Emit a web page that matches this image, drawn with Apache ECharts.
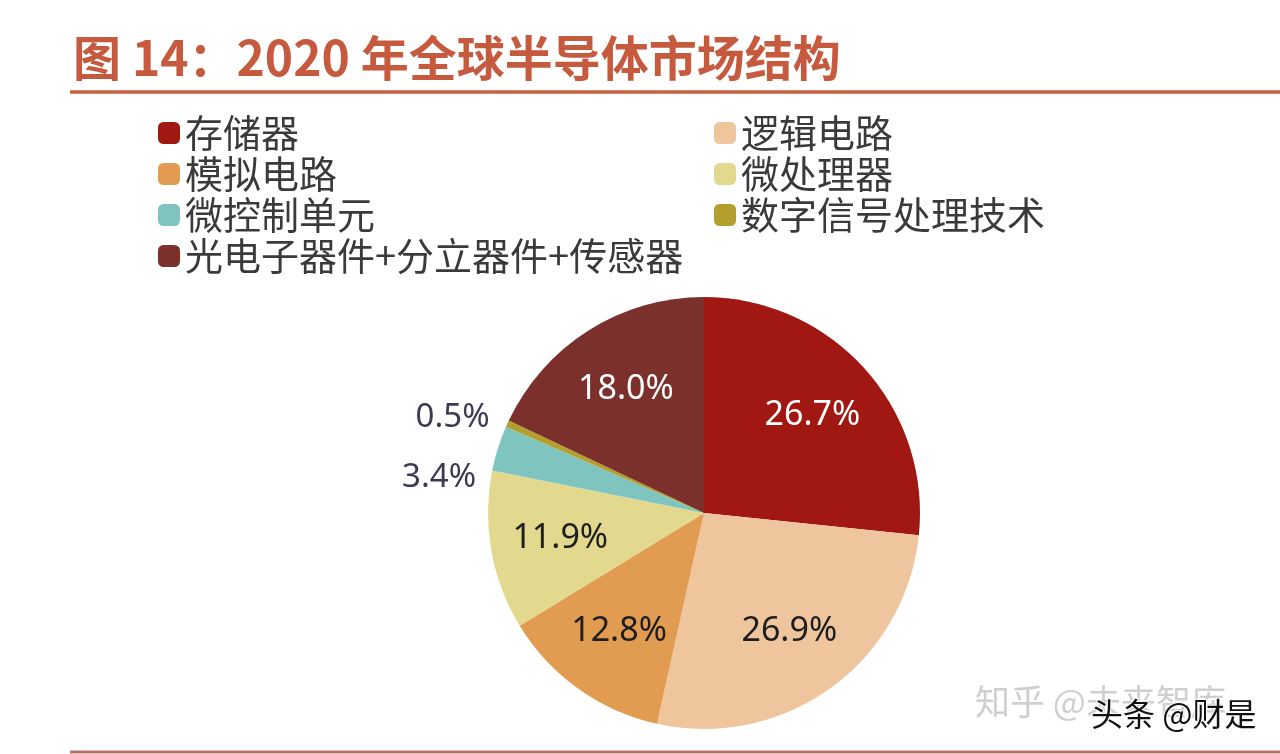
<!DOCTYPE html>
<html><head><meta charset="utf-8">
<script src="https://cdn.jsdelivr.net/npm/echarts@6/dist/echarts.min.js"></script>
<style>html,body{margin:0;padding:0;background:#fff}#c{width:1280px;height:754px}</style>
</head><body><div id="c"></div>
<script>
// ---- data ----
const categories = ['存储器','逻辑电路','模拟电路','微处理器','微控制单元','数字信号处理技术','光电子器件+分立器件+传感器'];
const shares = [26.7, 26.9, 12.8, 11.9, 3.4, 0.5, 18.0];
const legendLeft = ['存储器','模拟电路','微控制单元','光电子器件+分立器件+传感器'];
const legendRight = ['逻辑电路','微处理器','数字信号处理技术'];
const titleText = '图 14：2020 年全球半导体市场结构';

// ---- style ----
const palette = ['#A11812','#EEC59C','#E29C52','#E3D98E','#7FC4BE','#B49F2C','#7B302B'];
const lightLabel = new Set(['存储器','光电子器件+分立器件+传感器']);
const FONT = '"Noto Sans CJK SC","Noto Sans",sans-serif';
const NUMFONT = '"Noto Sans","DejaVu Sans",sans-serif';
const CX = 704, CY = 513, R = 216;

const chart = echarts.init(document.getElementById('c'), null, {renderer: 'canvas'});

const mainData = categories.map((n, i) => ({
  name: n, value: shares[i],
  label: {show: shares[i] < 5}
}));
const ringData = categories.map((n, i) => ({
  name: n, value: shares[i],
  label: {show: shares[i] >= 5, color: lightLabel.has(n) ? '#ffffff' : '#1e1e1e'}
}));

const legendCommon = {
  orient: 'vertical', icon: 'roundRect', itemWidth: 22, itemHeight: 22, itemGap: 3, padding: 0,
  textStyle: {fontFamily: FONT, fontSize: 38, lineHeight: 38, color: '#3a3a3a'},
  selectedMode: false
};

chart.setOption({
  animation: false,
  color: palette,
  title: {
    text: titleText, left: 73, top: 33, padding: 0,
    textStyle: {fontFamily: FONT, fontSize: 48, fontWeight: 'bold', color: '#C65A3E', lineHeight: 50}
  },
  legend: [
    Object.assign({}, legendCommon, {data: legendLeft, left: 158, top: 114}),
    Object.assign({}, legendCommon, {data: legendRight, left: 714, top: 114})
  ],
  graphic: [
    {type: 'line', shape: {x1: 70, y1: 92, x2: 1280, y2: 92}, style: {stroke: '#C8603F', lineWidth: 3.5}},
    {type: 'line', shape: {x1: 70, y1: 752, x2: 1280, y2: 752}, style: {stroke: '#B7736A', lineWidth: 3}},
    {type: 'text', left: 975, top: 684, style: {text: '知乎 @未来智库', font: '35px ' + FONT, fill: '#cfcfcf', shadowColor: 'rgba(0,0,0,0.35)', shadowBlur: 2, shadowOffsetX: 2, shadowOffsetY: 2}},
    {type: 'text', left: 1090, top: 697, style: {text: '头条 @财是', font: '32px ' + FONT, fill: '#111', stroke: '#fff', lineWidth: 2}}
  ],
  series: [
    {
      type: 'pie', center: [CX, CY], radius: R, startAngle: 90, clockwise: true,
      silent: true, avoidLabelOverlap: true,
      itemStyle: {borderWidth: 0},
      label: {position: 'outside', formatter: p => p.value.toFixed(1) + '%',
        fontFamily: NUMFONT, fontSize: 33, color: '#3a3a52', lineHeight: 58},
      labelLine: {show: false, length: 14, length2: 0},
      data: mainData
    },
    {
      type: 'pie', center: [CX, CY], radius: [122, 164], startAngle: 90, clockwise: true,
      silent: true, legendHoverLink: false,
      itemStyle: {color: 'rgba(0,0,0,0)'},
      label: {position: 'inside', formatter: p => p.value.toFixed(1) + '%',
        fontFamily: NUMFONT, fontSize: 34},
      labelLine: {show: false},
      data: ringData
    }
  ]
});
</script></body></html>
